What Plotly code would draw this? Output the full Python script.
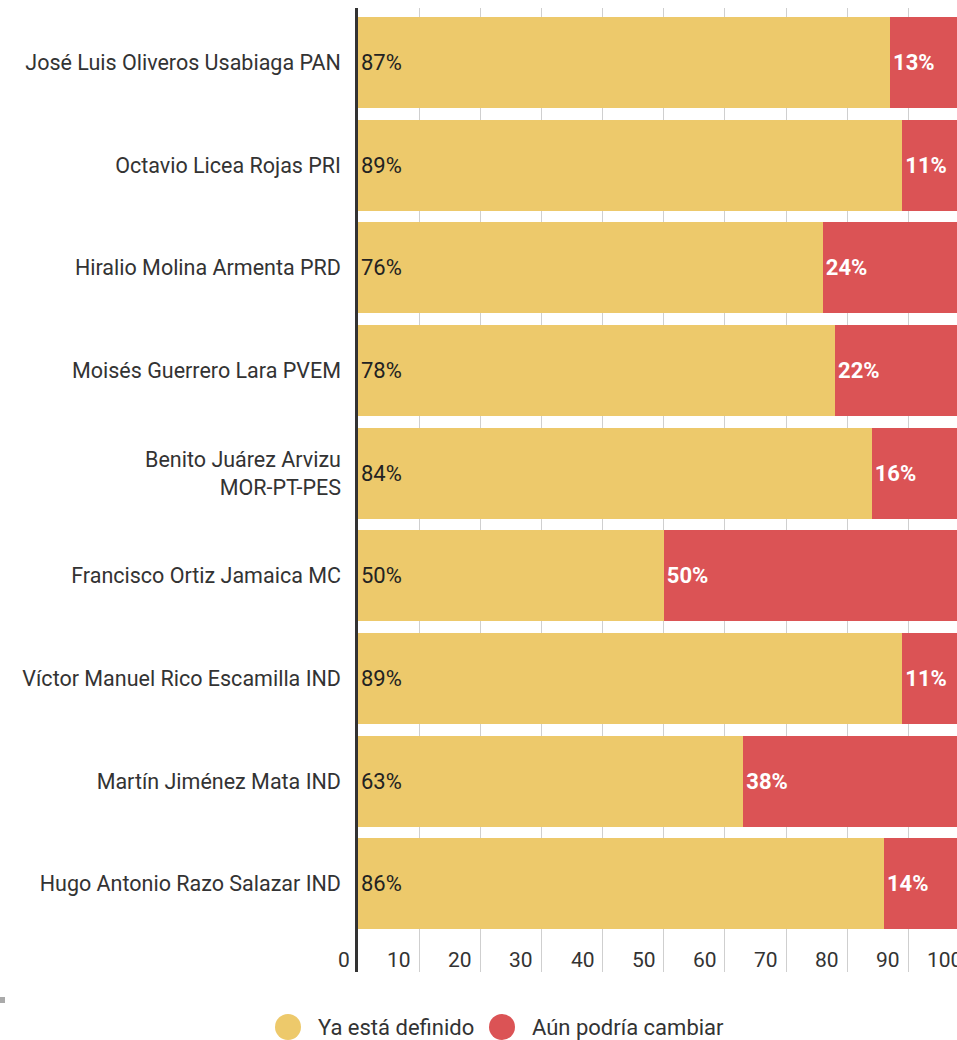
import plotly.graph_objects as go

candidates = [
    "José Luis Oliveros Usabiaga PAN",
    "Octavio Licea Rojas PRI",
    "Hiralio Molina Armenta PRD",
    "Moisés Guerrero Lara PVEM",
    "Benito Juárez Arvizu<br>MOR-PT-PES",
    "Francisco Ortiz Jamaica MC",
    "Víctor Manuel Rico Escamilla IND",
    "Martín Jiménez Mata IND",
    "Hugo Antonio Razo Salazar IND",
]
definido = [87, 89, 76, 78, 84, 50, 89, 63, 86]
cambiar = [13, 11, 24, 22, 16, 50, 11, 38, 14]
series_names = ["Ya está definido", "Aún podría cambiar"]
x_ticks = [0, 10, 20, 30, 40, 50, 60, 70, 80, 90, 100]

YELLOW = "#EDC96B"
RED = "#DB5355"
TXT = "#333333"
FONT = "Roboto"

W, H = 957, 1040
L, R, T, B = 358, 0, 8, 68
PW = W - L - R
PH = H - T - B
XMAX = 97.94


def px_x(px):
    return (px - L) / PW


def px_y(py):
    return (H - B - py) / PH


fig = go.Figure()
fig.add_trace(go.Bar(
    y=candidates, x=definido, orientation="h", name=series_names[0],
    marker=dict(color=YELLOW, line=dict(width=0)),
    texttemplate="%{x}%", textposition="inside", insidetextanchor="start",
    textfont=dict(family=FONT, size=22, color="#222222"),
    constraintext="none", showlegend=False, hoverinfo="skip",
))
fig.add_trace(go.Bar(
    y=candidates, x=cambiar, orientation="h", name=series_names[1],
    marker=dict(color=RED, line=dict(width=0)),
    texttemplate="%{x}%", textposition="inside", insidetextanchor="start",
    textfont=dict(family=FONT, size=22, color="#ffffff", weight="bold"),
    constraintext="none", showlegend=False, hoverinfo="skip",
))

annotations = []
for v in x_ticks:
    annotations.append(dict(
        xref="paper", yref="paper", x=v / XMAX, y=px_y(960),
        xanchor="right", yanchor="middle", xshift=-6,
        text=str(v), showarrow=False,
        font=dict(family=FONT, size=21, color=TXT),
    ))

# legend
legend_items = [(series_names[0], YELLOW, 288, 316), (series_names[1], RED, 502, 530)]
shapes = []
for name, col, cx, tx in legend_items:
    shapes.append(dict(
        type="circle", xref="paper", yref="paper",
        xsizemode="pixel", ysizemode="pixel",
        xanchor=px_x(cx), yanchor=px_y(1027),
        x0=-13, x1=13, y0=-13, y1=13,
        fillcolor=col, line=dict(width=0),
    ))
    annotations.append(dict(
        xref="paper", yref="paper", x=px_x(tx), y=px_y(1027),
        xanchor="left", yanchor="middle", text=name, showarrow=False,
        font=dict(family=FONT, size=22, color=TXT),
    ))

shapes.append(dict(
    type="rect", xref="paper", yref="paper",
    x0=px_x(0), x1=px_x(5), y0=px_y(1003), y1=px_y(997),
    fillcolor="#aaaaaa", line=dict(width=0),
))

fig.update_layout(
    width=W, height=H,
    margin=dict(l=L, r=R, t=T, b=B, autoexpand=False),
    barmode="stack", bargap=0.114,
    plot_bgcolor="white", paper_bgcolor="white",
    font=dict(family=FONT, size=22, color=TXT),
    annotations=annotations, shapes=shapes,
    showlegend=False,
    xaxis=dict(
        range=[0, XMAX], tickvals=x_ticks, showticklabels=False,
        showgrid=True, gridcolor="#cfcfcf", gridwidth=1.3,
        zeroline=False, showline=False, fixedrange=True,
    ),
    yaxis=dict(
        range=[8.86, -0.53], showgrid=False, zeroline=False,
        showline=True, linecolor="#333333", linewidth=2.5,
        ticks="", ticklabelstandoff=10,
        tickfont=dict(family=FONT, size=21.5, color=TXT),
        automargin=False, fixedrange=True,
    ),
)

fig.write_html(
    "out.html",
    config=dict(displayModeBar=False),
    post_script="document.body.style.margin='0';document.body.style.overflow='hidden';",
)
